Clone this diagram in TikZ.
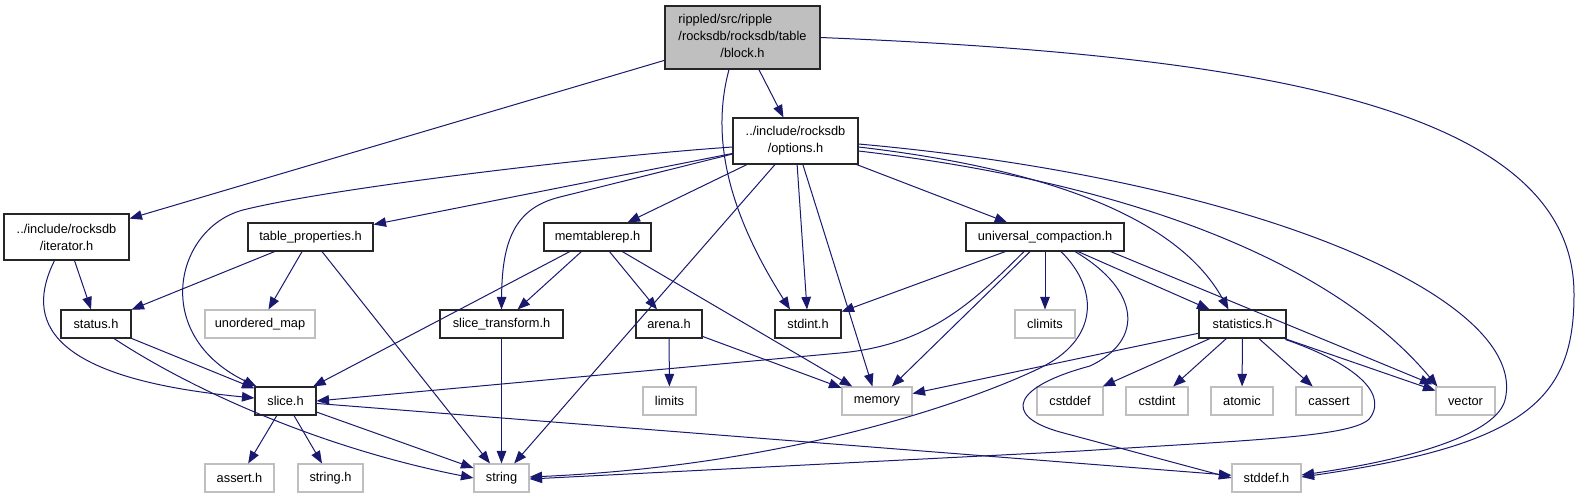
\documentclass[tikz,border=0pt]{standalone}
\usepackage{fontspec}
\setmainfont{Liberation Sans}
\usetikzlibrary{arrows.meta,calc}
\definecolor{edgeblue}{HTML}{191970}
\definecolor{greyline}{HTML}{BFBFBF}
\definecolor{rootfill}{HTML}{BFBFBF}
\definecolor{docline}{HTML}{262626}
\begin{document}
\begin{tikzpicture}[x=1pt,y=-1pt,
  every node/.style={font=\fontsize{12.8}{17}\selectfont, inner sep=0pt, align=center},
  doc/.style={draw=docline, line width=1.1pt, fill=white, minimum height=28pt},
  sys/.style={draw=greyline, line width=1.1pt, fill=white, minimum height=28pt},
  dep/.style={draw=edgeblue, line width=1pt, -{Triangle[length=12.5pt,width=9.5pt]}}]
\fill[white] (0,0) rectangle (1588,499);
\useasboundingbox (0,0) rectangle (1588,499);
% nodes
\node[doc, fill=rootfill, minimum width=155pt, minimum height=63pt] (block) at (742.5,37.5)
  {\begin{tabular}{@{}l@{}}rippled/src/ripple\\/rocksdb/rocksdb/table\\\multicolumn{1}{@{}c@{}}{/block.h}\end{tabular}};
\node[doc, minimum width=125pt, minimum height=46pt] (options) at (795.5,141) {../include/rocksdb\\/options.h};
\node[doc, minimum width=125pt, minimum height=46pt] (iterator) at (66.5,237) {../include/rocksdb\\/iterator.h};
\node[doc, minimum width=125pt] (tableprop) at (310.5,237) {table\_properties.h};
\node[doc, minimum width=107pt] (memtablerep) at (597.5,237) {memtablerep.h};
\node[doc, minimum width=158pt] (universal) at (1045,237) {universal\_compaction.h};
\node[doc, minimum width=70pt] (status) at (96,324) {status.h};
\node[sys, minimum width=110pt] (unorderedmap) at (260,324) {unordered\_map};
\node[doc, minimum width=123pt] (slicetransform) at (501.5,324) {slice\_transform.h};
\node[doc, minimum width=66pt] (arena) at (669,324) {arena.h};
\node[doc, minimum width=66pt] (stdint) at (808,324) {stdint.h};
\node[sys, minimum width=60pt] (climits) at (1045,324) {climits};
\node[doc, minimum width=87pt] (statistics) at (1242.5,324) {statistics.h};
\node[doc, minimum width=61pt] (slice) at (285.5,401) {slice.h};
\node[sys, minimum width=53pt] (limits) at (669.5,401) {limits};
\node[sys, minimum width=70pt] (memory) at (877,401) {memory};
\node[sys, minimum width=66pt] (cstddef) at (1070,401) {cstddef};
\node[sys, minimum width=62pt] (cstdint) at (1157,401) {cstdint};
\node[sys, minimum width=62pt] (atomic) at (1242,401) {atomic};
\node[sys, minimum width=66pt] (cassert) at (1329,401) {cassert};
\node[sys, minimum width=59pt] (vector) at (1465.5,401) {vector};
\node[sys, minimum width=69pt] (asserth) at (239.5,478) {assert.h};
\node[sys, minimum width=65pt] (stringh) at (330.5,478) {string.h};
\node[sys, minimum width=55pt] (string) at (501.5,478) {string};
\node[sys, minimum width=69pt] (stddef) at (1266.5,478) {stddef.h};
% block.h
\draw[dep] (block) -- (iterator);
\draw[dep] (block) -- (options);
\draw[dep] ($(block.south)+(-13.5,0)$) .. controls (710,140) and (730,215) .. ($(stdint.north)+(-18,0)$);
\draw[dep] (block.east) .. controls (1250,55) and (1575,105) .. (1574,295)
  .. controls (1574,400) and (1525,445) .. ($(stddef.east)+(0,-1)$);
% options.h
\draw[dep] (options) -- (tableprop);
\draw[dep] ($(options.west)+(0,6)$) .. controls (600,156) and (330,188) .. (243,210)
  .. controls (175,228) and (150,335) .. ($(slice.north west)+(2,0)$);
\draw[dep] ($(options.west)+(0,13)$) -- (560,197) .. controls (515,208) and (502,240) .. (slicetransform.north);
\draw[dep] (options) -- (memtablerep);
\draw[dep] (options) -- (string);
\draw[dep] (options) -- (stdint);
\draw[dep] (options) -- (memory);
\draw[dep] (options) -- (universal);
\draw[dep] ($(options.east)+(0,6)$) .. controls (1100,175) and (1190,240) .. ($(statistics.north)+(-14,0)$);
\draw[dep] ($(options.east)+(0,10)$) .. controls (1150,185) and (1340,270) .. ($(vector.north west)+(2,0)$);
\draw[dep] ($(options.east)+(0,3)$) .. controls (1260,180) and (1530,300) .. (1505,400)
  .. controls (1497,432) and (1420,458) .. ($(stddef.east)+(0,-3)$);
% iterator.h
\draw[dep] (iterator) -- (status);
\draw[dep] ($(iterator.south)+(-12,0)$) .. controls (25,320) and (45,378) .. ($(slice.west)+(0,-3)$);
% table_properties.h
\draw[dep] (tableprop) -- (status);
\draw[dep] (tableprop) -- (unorderedmap);
\draw[dep] (tableprop) -- (string);
% status.h
\draw[dep] (status) -- (slice);
\draw[dep] ($(status.south)+(18,0)$) .. controls (200,395) and (330,450) .. (string.west);
% memtablerep.h
\draw[dep] (memtablerep) -- (slice);
\draw[dep] (memtablerep) -- (slicetransform);
\draw[dep] (memtablerep) -- (arena);
\draw[dep] (memtablerep) -- (memory);
% slice_transform.h, arena.h
\draw[dep] (slicetransform) -- (string);
\draw[dep] (arena) -- (limits);
\draw[dep] (arena) -- (memory);
% universal_compaction.h
\draw[dep] (universal) -- (stdint);
\draw[dep] ($(universal.south)+(-21,0)$) .. controls (975,300) and (930,345) .. (840,353) -- (slice.east);
\draw[dep] (universal) -- (memory);
\draw[dep] (universal) -- (climits);
\draw[dep] ($(universal.south)+(16,0)$) .. controls (1100,290) and (1098,340) .. (1040,368)
  .. controls (980,397) and (800,465) .. ($(string.east)+(0,-1)$);
\draw[dep] ($(universal.south)+(30,0)$) .. controls (1140,290) and (1145,340) .. (1090,366)
  .. controls (1015,386) and (1000,415) .. (1060,432) -- (stddef.west);
\draw[dep] (universal) -- (statistics);
\draw[dep] ($(universal.south east)+(-14,0)$) -- ($(vector.north west)+(-3,-2)$);
% statistics.h
\draw[dep] (statistics) -- (memory);
\draw[dep] (statistics) -- (cstddef);
\draw[dep] (statistics) -- (cstdint);
\draw[dep] (statistics) -- (atomic);
\draw[dep] (statistics) -- (cassert);
\draw[dep] (statistics) -- (vector);
\draw[dep] ($(statistics.south east)+(-1,1)$) .. controls (1345,360) and (1390,390) .. (1370,418)
  .. controls (1355,437) and (1250,440) .. (1080,451) -- ($(string.east)+(0,1)$);
% slice.h
\draw[dep] (slice) -- (asserth);
\draw[dep] (slice) -- (stringh);
\draw[dep] (slice) -- (string);
\draw[dep] (slice) -- (stddef);
\end{tikzpicture}
\end{document}
